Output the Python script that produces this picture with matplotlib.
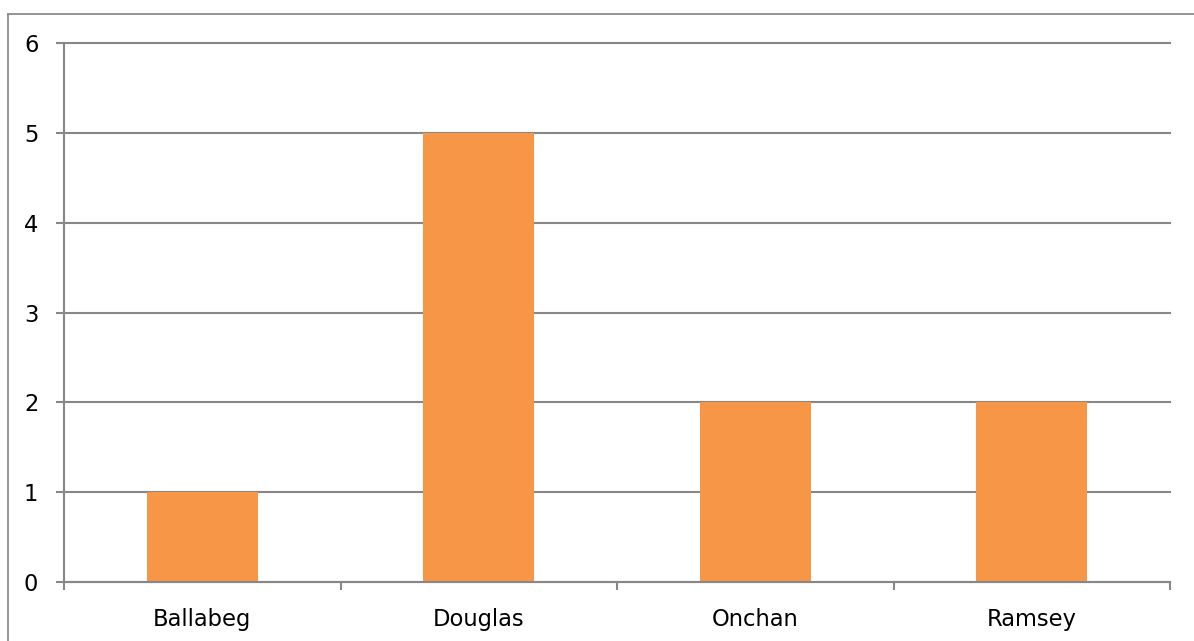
import matplotlib
matplotlib.use("Agg")
import matplotlib.pyplot as plt
from matplotlib.lines import Line2D

categories = ["Ballabeg", "Douglas", "Onchan", "Ramsey"]
values = [1, 5, 2, 2]
yticks = [0, 1, 2, 3, 4, 5, 6]

BAR = "#F79646"
GRID = "#878787"

fig = plt.figure(figsize=(11.94, 6.41), dpi=100)
fig.patch.set_facecolor("white")

# outer chart frame: only top and left edges are inside the image
fx = 8 / 1194
fy = 1 - 14 / 641
fig.add_artist(Line2D([fx, 1.0], [fy, fy], transform=fig.transFigure,
                      color="#8C8C8C", linewidth=1.3))
fig.add_artist(Line2D([fx, fx], [0.0, fy], transform=fig.transFigure,
                      color="#8C8C8C", linewidth=1.3))

ax = fig.add_axes([64 / 1194, 1 - 582 / 641, (1170 - 64) / 1194, (582 - 43) / 641])
x = list(range(len(categories)))
ax.bar(x, values, width=0.4, color=BAR, zorder=2)

ax.set_xlim(-0.5, len(categories) - 0.5)
ax.set_ylim(0, 6)
ax.set_yticks(yticks)
ax.set_yticklabels([str(v) for v in yticks])

ax.set_xticks([i - 0.5 for i in range(len(categories) + 1)])
ax.set_xticklabels([])
ax.set_xticks(x, minor=True)
ax.set_xticklabels(categories, minor=True)

ax.tick_params(axis="x", which="major", length=6, width=1.5, color=GRID, direction="out")
ax.tick_params(axis="x", which="minor", length=0, pad=19, labelsize=16.3)
ax.tick_params(axis="y", length=5.5, width=1.5, color=GRID, pad=13, labelsize=16.3)

ax.yaxis.grid(True, color=GRID, linewidth=1.5, zorder=1)
for gl in ax.get_ygridlines():
    gl.set_clip_on(False)
ax.set_axisbelow(True)

for s in ["top", "right"]:
    ax.spines[s].set_visible(False)
for s in ["left", "bottom"]:
    ax.spines[s].set_color(GRID)
    ax.spines[s].set_linewidth(1.5)
    ax.spines[s].set_zorder(3)

fig.savefig("out.png", dpi=100, facecolor="white")
